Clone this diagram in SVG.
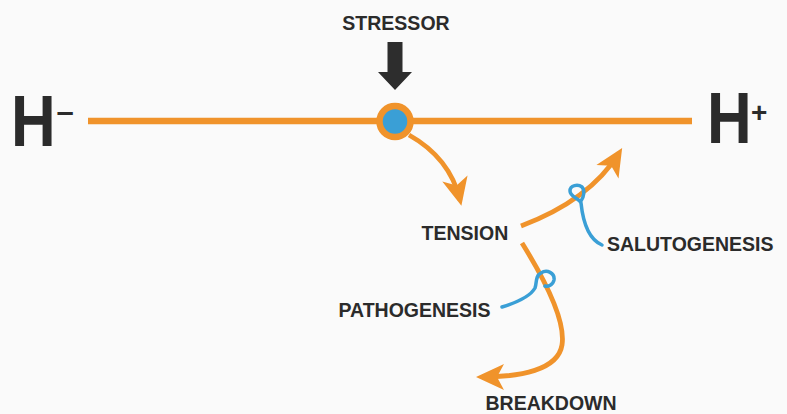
<svg xmlns="http://www.w3.org/2000/svg" width="787" height="414" viewBox="0 0 787 414">
  <style>
    .lbl { font-family: "Liberation Sans", Arial, sans-serif; font-weight: bold; font-size: 19.5px; fill: #2b2b2b; }
    .big { font-family: "Liberation Sans", Arial, sans-serif; font-weight: bold; fill: #2b2b2b; }
    .orange { fill: none; stroke: #F0932B; stroke-width: 4.8; }
    .hook { fill: none; stroke: #3A9FD6; stroke-width: 3.5; stroke-linecap: round; }
  </style>
  <defs>
    <marker id="ah" markerUnits="userSpaceOnUse" markerWidth="40" markerHeight="40" refX="-6" refY="0" orient="auto" overflow="visible">
      <path d="M0,0 L-28,-13 L-21,0 L-28,13 Z" fill="#F0932B"/>
    </marker>
  </defs>
  <rect width="787" height="414" fill="#fafafa"/>

  <g id="scale">
    <line x1="88" y1="121" x2="692" y2="121" stroke="#F0932B" stroke-width="6.5"/>
  </g>
  <g id="h-minus">
    <text class="big" transform="translate(11.1,146) scale(0.86,1)" font-size="72">H</text>
    <text class="big" x="56.5" y="122" font-size="31">–</text>
  </g>
  <g id="h-plus">
    <text class="big" transform="translate(707.1,143) scale(0.86,1)" font-size="72">H</text>
    <text class="big" x="751" y="121.6" font-size="28">+</text>
  </g>
  <g id="stressor">
    <text class="lbl" x="396" y="29.5" text-anchor="middle">STRESSOR</text>
    <path d="M387.5,42 H402.5 V72 H412 L395,90 L378,72 H387.5 Z" fill="#2d2d2d"/>
  </g>
  <g id="point">
    <circle cx="395" cy="121.5" r="15.5" fill="#3A9FD6" stroke="#F0932B" stroke-width="6.5"/>
  </g>
  <g id="tension">
    <text class="lbl" x="421.6" y="240">TENSION</text>
  </g>
  <g id="salutogenesis">
    <text class="lbl" x="607" y="251">SALUTOGENESIS</text>
  </g>
  <g id="pathogenesis">
    <text class="lbl" x="338.5" y="317">PATHOGENESIS</text>
  </g>
  <g id="breakdown">
    <text class="lbl" x="485.5" y="410">BREAKDOWN</text>
  </g>

  <g id="connectors">
    <path class="orange" d="M409,135 Q450,158 460,200" marker-end="url(#ah)"/>
    <path class="orange" d="M521,226 Q590,200 619,153" marker-end="url(#ah)"/>
    <path class="orange" d="M522,243 C545,280 566,320 562,345 C558,370 520,377 482,377" marker-end="url(#ah)"/>
    <path class="hook" d="M602,245 C588,239 583,222 581,203 C579,198 570,197 570,191 C570,185 578,184 582,187 C585,190 584,197 581,201"/>
    <path class="hook" d="M502,307 C515,303 530,297 535,288 C537,283 535,276 541,273 C547,269 555,273 554,280 C553,285 548,287 545,286"/>
  </g>
</svg>
